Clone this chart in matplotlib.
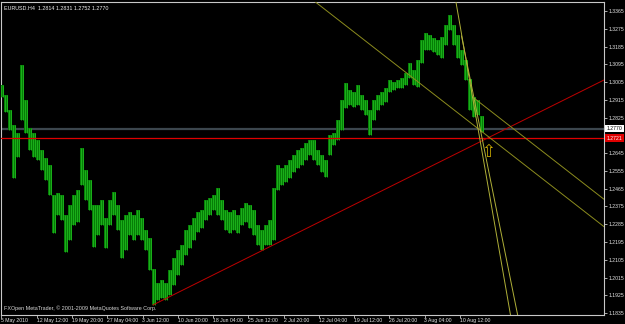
import matplotlib
matplotlib.use("Agg")
import matplotlib.pyplot as plt
import numpy as np

plt.rcParams['font.family'] = ['Liberation Sans', 'DejaVu Sans']

# ---------------- data ----------------
symbol_title = "EURUSD.H4  1.2814 1.2831 1.2752 1.2770"
footer = "FXOpen MetaTrader, \u00a9 2001-2009 MetaQuotes Software Corp."

# sampled H4 bars (every 4th bar), high / low prices
highs = [1.2990, 1.2940, 1.2864, 1.2788, 1.2747, 1.3092, 1.2914, 1.2773, 1.2747, 1.2712,
         1.2661, 1.2621, 1.2585, 1.2433, 1.2443, 1.2433, 1.2332, 1.2382, 1.2433, 1.2458,
         1.2671, 1.2560, 1.2509, 1.2382, 1.2382, 1.2408, 1.2317, 1.2408, 1.2448, 1.2382,
         1.2306, 1.2332, 1.2347, 1.2332, 1.2357, 1.2317, 1.2256, 1.2215, 1.2060, 1.1987,
         1.2003, 1.1987, 1.2053, 1.2114, 1.2155, 1.2180, 1.2256, 1.2281, 1.2317, 1.2347,
         1.2357, 1.2408, 1.2418, 1.2433, 1.2469, 1.2408, 1.2357, 1.2347, 1.2357, 1.2332,
         1.2367, 1.2393, 1.2382, 1.2357, 1.2281, 1.2256, 1.2281, 1.2306, 1.2470, 1.2585,
         1.2570, 1.2585, 1.2610, 1.2636, 1.2661, 1.2671, 1.2697, 1.2712, 1.2712, 1.2661,
         1.2636, 1.2610, 1.2737, 1.2747, 1.2813, 1.2914, 1.3001, 1.2965, 1.2955, 1.2990,
         1.2940, 1.2914, 1.2864, 1.2914, 1.2940, 1.2955, 1.2975, 1.3016, 1.3006, 1.3016,
         1.3026, 1.3051, 1.3102, 1.3066, 1.3117, 1.3218, 1.3254, 1.3244, 1.3228, 1.3218,
         1.3234, 1.3294, 1.3345, 1.3294, 1.3244, 1.3168, 1.3117, 1.3020, 1.2930, 1.2914,
         1.2831]
lows = [1.2930, 1.2854, 1.2762, 1.2519, 1.2626, 1.2813, 1.2747, 1.2661, 1.2626, 1.2610,
        1.2560, 1.2509, 1.2433, 1.2241, 1.2332, 1.2306, 1.2145, 1.2205, 1.2281, 1.2296,
        1.2484, 1.2408, 1.2357, 1.2170, 1.2230, 1.2281, 1.2165, 1.2281, 1.2332, 1.2256,
        1.2114, 1.2155, 1.2230, 1.2205, 1.2230, 1.2205, 1.2155, 1.2053, 1.1876, 1.1901,
        1.1911, 1.1901, 1.1927, 1.1977, 1.2028, 1.2078, 1.2129, 1.2165, 1.2205, 1.2246,
        1.2266, 1.2306, 1.2332, 1.2357, 1.2332, 1.2306, 1.2256, 1.2241, 1.2256, 1.2241,
        1.2281, 1.2296, 1.2266, 1.2230, 1.2180, 1.2155, 1.2180, 1.2180, 1.2205, 1.2458,
        1.2484, 1.2499, 1.2519, 1.2550, 1.2570, 1.2585, 1.2610, 1.2636, 1.2610, 1.2585,
        1.2550, 1.2524, 1.2636, 1.2686, 1.2712, 1.2762, 1.2874, 1.2889, 1.2879, 1.2889,
        1.2864, 1.2838, 1.2737, 1.2813, 1.2864, 1.2889, 1.2904, 1.2955, 1.2965, 1.2975,
        1.2975, 1.2990, 1.3026, 1.2990, 1.2980, 1.3102, 1.3168, 1.3168, 1.3158, 1.3142,
        1.3127, 1.3193, 1.3269, 1.3193, 1.3127, 1.3092, 1.3016, 1.2864, 1.2828, 1.2838,
        1.2752]

bid_price = 1.2770
level_price = 1.2721

price_ticks = [1.3365, 1.3275, 1.3185, 1.3095, 1.3005, 1.2915, 1.2825, 1.2735, 1.2645,
               1.2555, 1.2465, 1.2375, 1.2285, 1.2195, 1.2105, 1.2015, 1.1925, 1.1835]
hidden_ticks = [1.2735]   # label covered by the price boxes
time_labels = ["5 May 2010", "12 May 12:00", "19 May 20:00", "27 May 04:00", "3 Jun 12:00",
               "10 Jun 20:00", "18 Jun 04:00", "25 Jun 12:00", "2 Jul 20:00", "12 Jul 04:00",
               "19 Jul 12:00", "26 Jul 20:00", "3 Aug 04:00", "10 Aug 12:00"]

# trend lines: (bar, price) anchor points
red_trend = [(151.5, 1.1876), (261.5, 1.2154)]
chan_a = [(411.5, 1.3026), (571.5, 1.2395)]
chan_b_start = (472.8, 1.2923)
steep_c = [(454.1, 1.3421), (508.7, 1.1834)]
steep_d = [(460.0, 1.3239), (515.8, 1.1834)]
arrow_point = (486.5, 1.2651)

# ---------------- figure ----------------
W, H = 625, 324
fig = plt.figure(figsize=(W / 100, H / 100), dpi=100, facecolor='black')
ax = fig.add_axes([1.5 / W, 9 / H, (604 - 1.5) / W, (315 - 1.5) / H])
ax.set_facecolor('black')
ax.set_xlim(0, 602.5)
ax.set_ylim(1.18252, 1.34134)

bars_x = 0.5 + 4 * np.arange(len(highs))
ax.vlines(bars_x, lows, highs, colors='#067e06', linewidth=2.9, zorder=3)
ax.vlines(bars_x - 0.9, lows, highs, colors='#1fb81f', linewidth=0.6, zorder=3)
ax.vlines(bars_x + 0.9, lows, highs, colors='#1fb81f', linewidth=0.6, zorder=3)

# horizontal lines
ax.axhline(bid_price, color='#3c464e', linewidth=1.6, zorder=2)
ax.axhline(level_price, color='#dd0000', linewidth=0.9, zorder=4)

# red trend line (ray)
(x1, y1), (x2, y2) = red_trend
slope = (y2 - y1) / (x2 - x1)
xe = 602.5
ax.plot([x1, xe], [y1, y1 + slope * (xe - x1)], color='#c00000', linewidth=0.7, zorder=5)

# channel lines
ax.axline(chan_a[0], chan_a[1], color='#8c8c1e', linewidth=0.7, zorder=5)
sa = (chan_a[1][1] - chan_a[0][1]) / (chan_a[1][0] - chan_a[0][0])
bx, by = chan_b_start
ax.plot([bx, xe], [by, by + sa * (xe - bx)], color='#8c8c1e', linewidth=0.7, zorder=5)

ax.axline(steep_c[0], steep_c[1], color='#b0b038', linewidth=0.7, zorder=5)
(dx1, dy1), (dx2, dy2) = steep_d
sd = (dy2 - dy1) / (dx2 - dx1)
ax.plot([dx1, dx1 + (1.17 - dy1) / sd], [dy1, 1.17], color='#b0b038', linewidth=0.7, zorder=5)

ax.text(arrow_point[0], arrow_point[1], "\u21e7", ha='center', va='center', fontsize=12,
        color='#c8a800', family=['DejaVu Sans'], zorder=6)

# frame
for s in ax.spines.values():
    s.set_color('#c8c8c8')
    s.set_linewidth(0.8)

# right price axis
ax.yaxis.tick_right()
ax.set_yticks(price_ticks)
ax.set_yticklabels(["" if p in hidden_ticks else f"{p:.4f}" for p in price_ticks])
ax.tick_params(axis='y', colors='#c8c8c8', labelcolor='#e6e6e6', labelsize=3.7,
               length=2, width=0.6, pad=1.2)

# time axis
ax.set_xticks(35.25 * np.arange(len(time_labels)))
ax.set_xticklabels(time_labels, ha='left')
ax.tick_params(axis='x', colors='#c8c8c8', labelcolor='#e6e6e6', labelsize=3.7,
               length=2, width=0.6, pad=0.5)

# price boxes
ytr = ax.get_yaxis_transform()
ax.text(1.0045, bid_price, f"{bid_price:.4f}", transform=ytr, ha='left', va='center',
        fontsize=3.7, color='black', clip_on=False, zorder=10,
        bbox=dict(boxstyle='square,pad=0.25', fc='white', ec='none'))
ax.text(1.0045, level_price, f"{level_price:.4f}", transform=ytr, ha='left', va='center',
        fontsize=3.7, color='white', clip_on=False, zorder=10,
        bbox=dict(boxstyle='square,pad=0.25', fc='#e00000', ec='none'))

# captions
ax.text(0.004, 0.987, symbol_title, transform=ax.transAxes, ha='left', va='top',
        fontsize=3.9, color='#f0f0f0', zorder=10)
ax.text(0.004, 0.012, footer, transform=ax.transAxes, ha='left', va='bottom',
        fontsize=3.9, color='#d8d8d8', zorder=10)

fig.savefig("out.png", dpi=100, facecolor='black')
